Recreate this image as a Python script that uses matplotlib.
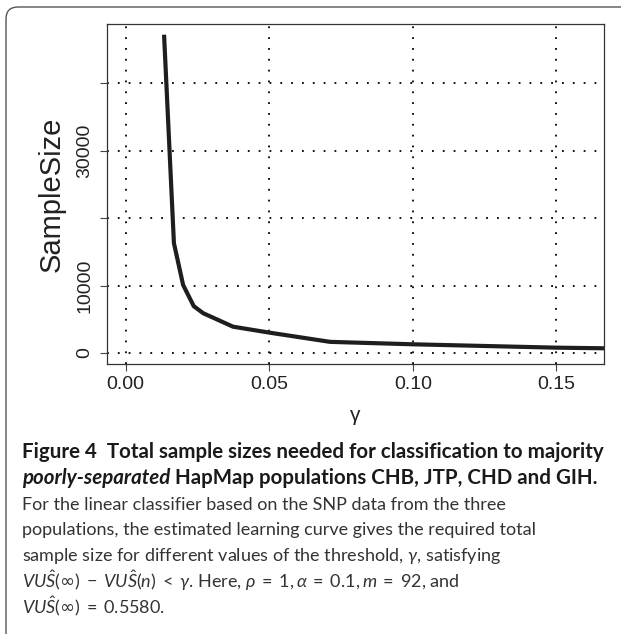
import matplotlib
matplotlib.use("Agg")
import matplotlib.pyplot as plt
from matplotlib.patches import FancyBboxPatch

# learning curve
gamma = [0.0134, 0.0168, 0.0200, 0.0237, 0.0270, 0.0374, 0.0502, 0.0712, 0.100, 0.150, 0.170]
sample_size = [46900, 16300, 10100, 6950, 5900, 3900, 3010, 1650, 1290, 790, 680]

x_ticks = [0.00, 0.05, 0.10, 0.15]
x_tick_labels = ["0.00", "0.05", "0.10", "0.15"]
y_ticks = [0, 10000, 20000, 30000, 40000]
y_tick_labels = ["0", "10000", "", "30000", ""]

caption_lines = [
    "For the linear classifier based on the SNP data from the three",
    "populations, the estimated learning curve gives the required total",
    r"sample size for different values of the threshold, $\gamma$, satisfying",
    r"$\mathit{VU}\hat{\mathit{S}}(\mathsf{\infty})\;-\;\mathit{VU}\hat{\mathit{S}}(n)\;<\;\gamma$. Here, "
    r"$\rho\;=\;1, \alpha\;=\;0.1, m\;=\;92$, and",
    r"$\mathit{VU}\hat{\mathit{S}}(\mathsf{\infty})\;=\;0.5580.$",
]


def main():
    plt.rcParams["mathtext.fontset"] = "custom"
    plt.rcParams["mathtext.rm"] = "Lato"
    plt.rcParams["mathtext.it"] = "Lato:italic"
    plt.rcParams["mathtext.bf"] = "Lato:bold"
    plt.rcParams["mathtext.sf"] = "DejaVu Sans"

    fig = plt.figure(figsize=(6.21, 6.34), dpi=100)

    # outer frame with rounded corner
    frame = FancyBboxPatch((0.06, -1.0), 8.0, 7.27, boxstyle="round,pad=0,rounding_size=0.12",
                           transform=fig.dpi_scale_trans, facecolor="none",
                           edgecolor="#555555", linewidth=1.0)
    fig.patches.append(frame)

    ax = fig.add_axes([0.1728, 0.4259, 0.7998, 0.5363])
    ax.plot(gamma, sample_size, color="#1e1e1e", linewidth=3.0, solid_joinstyle="round")
    ax.set_xlim(-0.0064, 0.1666)
    ax.set_ylim(-1630, 48800)

    ax.set_xticks(x_ticks)
    ax.set_xticklabels(x_tick_labels, family="Liberation Sans", fontsize=14, color="#222222")
    ax.set_yticks(y_ticks)
    ax.set_yticklabels(y_tick_labels, family="Liberation Sans", fontsize=14, color="#222222",
                       rotation=90, va="center")
    ax.tick_params(axis="both", length=5, width=0.8, color="#444444")
    ax.tick_params(axis="x", pad=4)
    ax.tick_params(axis="y", pad=5)

    for v in x_ticks:
        ax.axvline(v, color="black", linewidth=1.3, linestyle=(0, (1, 5.0)), zorder=0)
    for v in y_ticks:
        ax.axhline(v, color="black", linewidth=1.3, linestyle=(0, (1, 5.0)), zorder=0)

    for s in ax.spines.values():
        s.set_color("#333333")
        s.set_linewidth(0.9)

    ax.set_ylabel("SampleSize", family="Liberation Sans", fontsize=21, color="#222222", labelpad=8)
    ax.set_xlabel("γ", family="Liberation Sans", fontsize=15, color="#222222", labelpad=9)

    # caption
    x0 = 22 / 621
    fs_head = 14.8
    fig.text(x0, 1 - 452 / 634, "Figure 4  Total sample sizes needed for classification to majority",
             family="Lato", weight="bold", fontsize=fs_head, va="center", color="#1a1a1a")
    t = fig.text(x0, 1 - 478 / 634, "poorly-separated", family="Lato", weight="bold",
                 style="italic", fontsize=fs_head, va="center", color="#1a1a1a")
    fig.canvas.draw()
    bb = t.get_window_extent()
    fig.text(bb.x1 / fig.bbox.width, 1 - 478 / 634, " HapMap populations CHB, JTP, CHD and GIH.",
             family="Lato", weight="bold", fontsize=fs_head, va="center", color="#1a1a1a")

    ys = [505, 530, 556, 581, 606]
    for line, yy in zip(caption_lines, ys):
        fig.text(x0, 1 - yy / 634, line, family="Lato", fontsize=13.0, va="center", color="#333333")

    fig.savefig("out.png", dpi=100)


if __name__ == "__main__":
    main()
